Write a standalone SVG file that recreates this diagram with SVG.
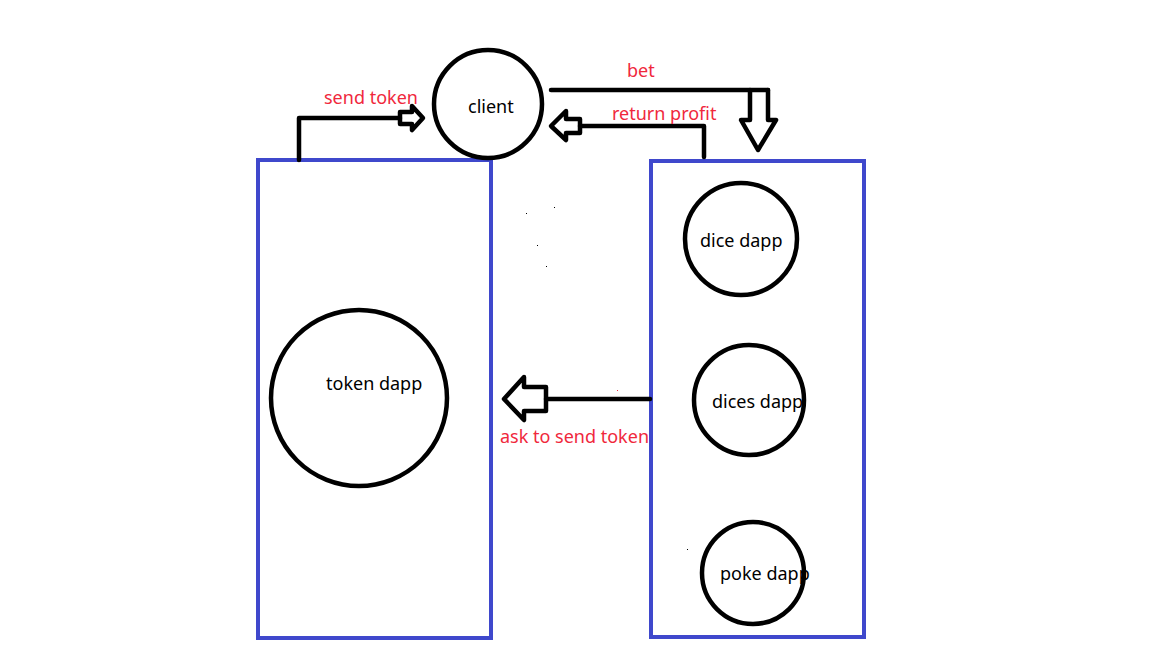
<svg xmlns="http://www.w3.org/2000/svg" width="1152" height="648" viewBox="0 0 1152 648">
<style>
.box{fill:none;stroke:#3f48cc;stroke-width:4}
.node{fill:none;stroke:#000;stroke-width:4.5}
.lbl{font-family:"Noto Sans","Open Sans",sans-serif;font-size:18px;fill:#000}
.red{font-family:"Noto Sans","Open Sans",sans-serif;font-size:18px;fill:#f0283c}
.ln{fill:none;stroke:#000;stroke-width:4.5;stroke-linejoin:round;stroke-linecap:round}
</style>
<rect width="1152" height="648" fill="#fff"/>
<g id="token-container"><rect class="box" x="258" y="160" width="233" height="478"/></g>
<g id="dapp-container"><rect class="box" x="651" y="161" width="213" height="476"/></g>
<g id="client"><circle class="node" cx="488" cy="104" r="54"/><text class="lbl" x="468" y="113">client</text></g>
<g id="token-dapp"><circle class="node" cx="359" cy="398" r="88"/><text class="lbl" x="326" y="390">token dapp</text></g>
<g id="dice-dapp"><circle class="node" cx="741" cy="239" r="56"/><text class="lbl" x="700" y="247">dice dapp</text></g>
<g id="dices-dapp"><circle class="node" cx="749" cy="400" r="55"/><text class="lbl" x="712" y="408">dices dapp</text></g>
<g id="poke-dapp"><circle class="node" cx="753" cy="573" r="51"/><text class="lbl" x="720" y="580">poke dapp</text></g>
<g id="connectors">
<path class="ln" d="M299,160 V118 H400"/>
<path class="ln" d="M400,112 H412 V106 L423,118 L412,130 V124 H400 Z"/>
<path class="ln" d="M551,90 H768"/>
<path class="ln" d="M750,90 V120 H741 L758,150 L776,120 H768 V90"/>
<path class="ln" d="M704,157 V126 H580"/>
<path class="ln" d="M580,119 H566 V111 L551,126 L566,140 V133 H580 Z"/>
<path class="ln" d="M650,399 H546"/>
<path class="ln" d="M546,387 H524 V377 L504,399 L524,420 V411 H546 Z"/>
</g>
<g id="labels">
<text class="red" x="324" y="104">send token</text>
<text class="red" x="627" y="77">bet</text>
<text class="red" x="612" y="120">return profit</text>
<text class="red" x="500" y="443">ask to send token</text>
</g>
<g id="specks" fill="#000">
<rect x="526" y="213" width="1" height="1"/>
<rect x="554" y="207" width="1" height="1"/>
<rect x="537" y="245" width="1" height="1"/>
<rect x="546" y="266" width="1" height="1"/>
<rect x="687" y="549" width="1" height="1"/>
<rect x="617" y="390" width="1" height="1" fill="#f0283c"/>
</g>
</svg>
